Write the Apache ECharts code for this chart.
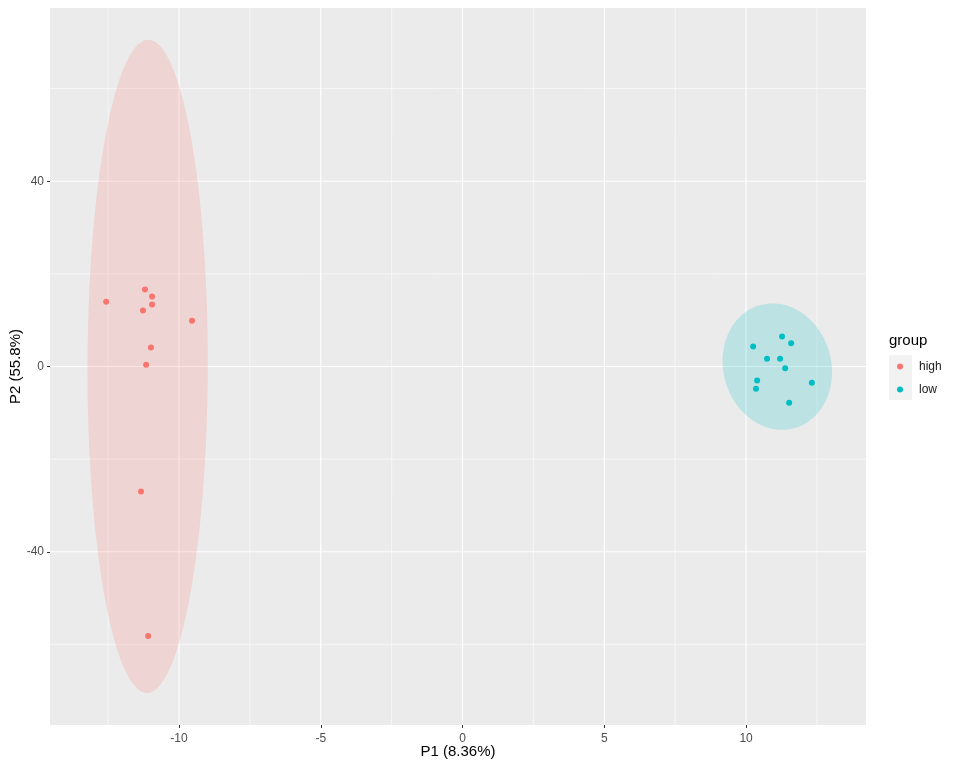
<!DOCTYPE html>
<html>
<head>
<meta charset="utf-8">
<script src="https://cdn.jsdelivr.net/npm/echarts@6/dist/echarts.min.js"></script>
<style>html,body{margin:0;padding:0;background:#fff}#c{width:960px;height:768px}</style>
</head>
<body>
<div id="c"></div>
<script>
// ---- data ----
const groups = ['high', 'low'];
const highX = [-12.57, -11.20, -10.95, -10.95, -11.27, -9.54, -10.99, -11.16, -11.34, -11.09];
const highY = [14.0, 16.6, 15.1, 13.4, 12.1, 9.9, 4.1, 0.4, -27.0, -58.2];
const lowX = [11.27, 10.25, 11.59, 10.74, 11.20, 11.38, 10.39, 10.35, 12.32, 11.52];
const lowY = [6.5, 4.3, 5.0, 1.7, 1.7, -0.4, -3.0, -4.8, -3.5, -7.8];
const xTicks = [-10, -5, 0, 5, 10];
const xMinor = [-12.5, -7.5, -2.5, 2.5, 7.5, 12.5];
const yTicks = [-40, 0, 40];
const yMinor = [-60, -20, 20, 60];
const xRange = [-14.55, 14.23];
const yRange = [-77.4, 77.4];
const colors = ['#F8766D', '#00BFC4'];
// F quantile (0.95, 2, n-1 = 9) for 95% ellipse
const F95 = 4.2565;

function ellipse(xs, ys) {
  const n = xs.length;
  const mx = xs.reduce((a, b) => a + b, 0) / n;
  const my = ys.reduce((a, b) => a + b, 0) / n;
  let sxx = 0, syy = 0, sxy = 0;
  for (let i = 0; i < n; i++) {
    sxx += (xs[i] - mx) ** 2; syy += (ys[i] - my) ** 2; sxy += (xs[i] - mx) * (ys[i] - my);
  }
  sxx /= n - 1; syy /= n - 1; sxy /= n - 1;
  const a = Math.sqrt(sxx), b = sxy / a, c = Math.sqrt(syy - b * b);
  const r = Math.sqrt(2 * F95);
  const pts = [];
  for (let k = 0; k <= 120; k++) {
    const t = k / 120 * 2 * Math.PI;
    const u = Math.cos(t), v = Math.sin(t);
    pts.push([mx + r * a * u, my + r * (b * u + c * v)]);
  }
  return pts;
}
const ellipses = [ellipse(highX, highY), ellipse(lowX, lowY)];

const gridData = [];
xTicks.forEach(v => gridData.push([0, v, 1]));
xMinor.forEach(v => gridData.push([0, v, 0]));
yTicks.forEach(v => gridData.push([1, v, 1]));
yMinor.forEach(v => gridData.push([1, v, 0]));

const font = '"Liberation Sans", Arial, sans-serif';
const chart = echarts.init(document.getElementById('c'));
chart.setOption({
  animation: false,
  grid: { left: 50, right: 94, top: 8, bottom: 43, show: true, backgroundColor: '#EBEBEB', borderWidth: 0,
          containLabel: false, outerBoundsMode: 'none' },
  xAxis: {
    type: 'value', min: xRange[0], max: xRange[1],
    name: 'P1 (8.36%)', nameLocation: 'middle', nameGap: 19, nameMoveOverlap: false,
    nameTextStyle: { fontFamily: font, fontSize: 15, color: '#000' },
    axisLine: { show: false, onZero: false },
    splitLine: { show: false },
    axisTick: { show: true, length: 3, customValues: xTicks, lineStyle: { color: '#333', width: 1 } },
    axisLabel: { customValues: xTicks, margin: 8, fontFamily: font, fontSize: 12, color: '#4D4D4D' }
  },
  yAxis: {
    type: 'value', min: yRange[0], max: yRange[1],
    name: 'P2 (55.8%)', nameLocation: 'middle', nameGap: 27, nameRotate: 90, nameMoveOverlap: false,
    nameTextStyle: { fontFamily: font, fontSize: 15, color: '#000' },
    axisLine: { show: false, onZero: false },
    splitLine: { show: false },
    axisTick: { show: true, length: 3, customValues: yTicks, lineStyle: { color: '#333', width: 1 } },
    axisLabel: { customValues: yTicks, margin: 6, fontFamily: font, fontSize: 12, color: '#4D4D4D' }
  },
  legend: {
    data: groups, orient: 'vertical', left: 892, top: 353,
    icon: 'circle', itemWidth: 18, itemHeight: 6, itemGap: 6,
    textStyle: { fontFamily: font, fontSize: 12, color: '#1A1A1A', lineHeight: 17, padding: [0, 0, 0, 5] }
  },
  graphic: [
    { type: 'rect', z: 1, shape: { x: 889, y: 355, width: 23, height: 45 }, style: { fill: '#F2F2F2' } },
    { type: 'text', z: 1, left: 889, top: 333, style: { text: 'group', font: '15px ' + font, fill: '#000' } }
  ],
  series: [
    {
      type: 'custom', name: 'grid', z: 1, silent: true,
      data: gridData,
      renderItem: function (params, api) {
        const cs = params.coordSys;
        const major = api.value(2) === 1;
        const style = { stroke: '#FFFFFF', lineWidth: major ? 1.1 : 0.55 };
        if (api.value(0) === 0) {
          const x = api.coord([api.value(1), 0])[0];
          return { type: 'line', shape: { x1: x, y1: cs.y, x2: x, y2: cs.y + cs.height }, style: style };
        }
        const y = api.coord([0, api.value(1)])[1];
        return { type: 'line', shape: { x1: cs.x, y1: y, x2: cs.x + cs.width, y2: y }, style: style };
      }
    },
    ...groups.map((g, gi) => ({
      type: 'custom', name: g + ' ellipse', z: 2, silent: true,
      data: [[gi]],
      renderItem: function (params, api) {
        const pts = ellipses[gi].map(p => api.coord(p));
        return { type: 'polygon', shape: { points: pts }, style: { fill: colors[gi], opacity: 0.2 } };
      }
    })),
    {
      type: 'scatter', name: 'high', z: 3, symbolSize: 6,
      itemStyle: { color: colors[0], opacity: 1 },
      data: highX.map((x, i) => [x, highY[i]])
    },
    {
      type: 'scatter', name: 'low', z: 3, symbolSize: 6,
      itemStyle: { color: colors[1], opacity: 1 },
      data: lowX.map((x, i) => [x, lowY[i]])
    }
  ]
});
</script>
</body>
</html>
